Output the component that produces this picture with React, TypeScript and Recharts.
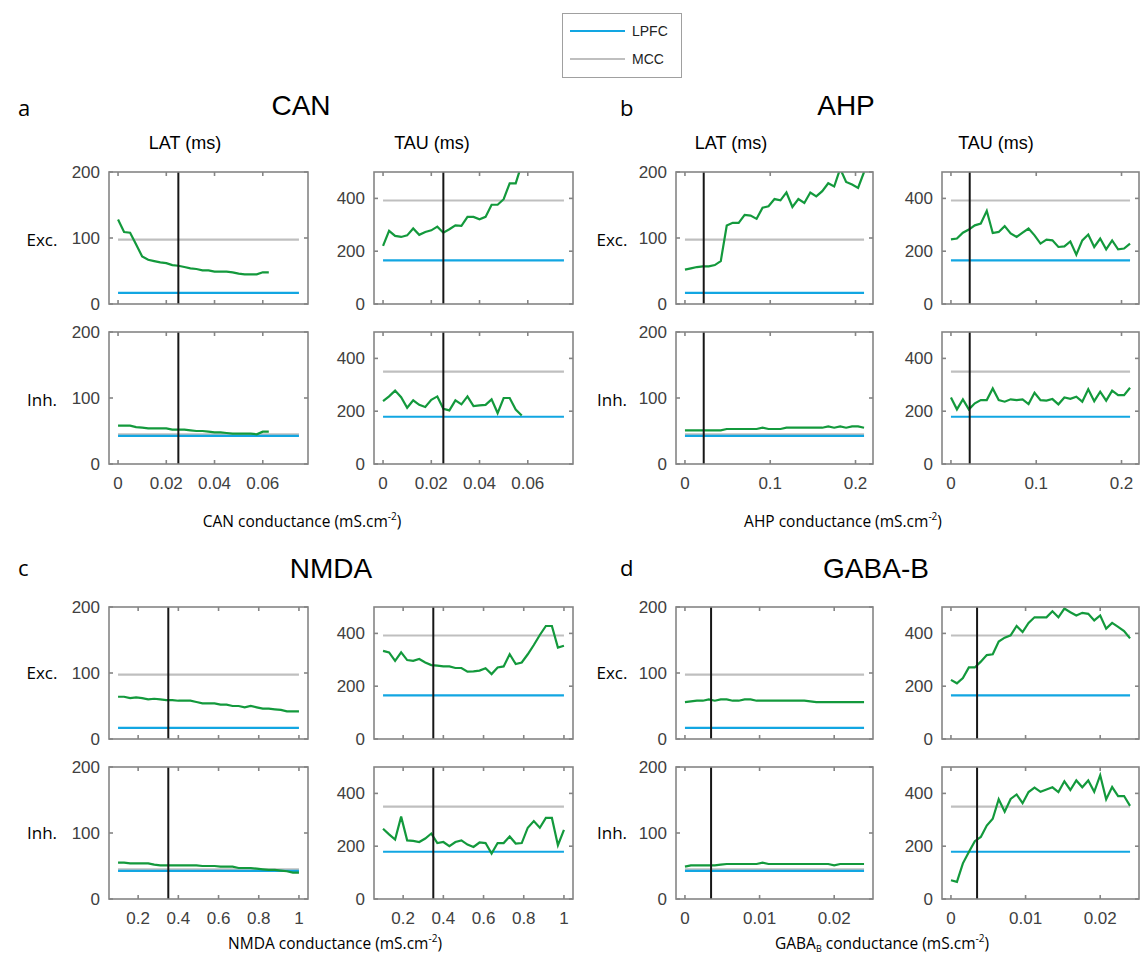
import React from 'react'
import { LineChart, Line, XAxis, YAxis, ReferenceLine } from 'recharts'

const GREEN = '#13993c'
const BLUE = '#12a6e2'
const GRAY = '#bfbfbf'
const AXIS = '#858585'
const TEXT = '#404040'

// conductance grids (mS.cm-2)
const canX = [0, 0.0025, 0.005, 0.0075, 0.01, 0.0125, 0.015, 0.0175, 0.02, 0.0225, 0.025, 0.0275, 0.03, 0.0325, 0.035, 0.0375, 0.04, 0.0425, 0.045, 0.0475, 0.05, 0.0525, 0.055, 0.0575, 0.06, 0.0625, 0.065, 0.0675, 0.07, 0.0725, 0.075]
const ahpX = [0, 0.007, 0.014, 0.021, 0.028, 0.035, 0.042, 0.049, 0.056, 0.063, 0.07, 0.077, 0.084, 0.091, 0.098, 0.105, 0.112, 0.119, 0.126, 0.133, 0.14, 0.147, 0.154, 0.161, 0.168, 0.175, 0.182, 0.189, 0.196, 0.203, 0.21]
const nmdaX = [0.1, 0.13, 0.16, 0.19, 0.22, 0.25, 0.28, 0.31, 0.34, 0.37, 0.4, 0.43, 0.46, 0.49, 0.52, 0.55, 0.58, 0.61, 0.64, 0.67, 0.7, 0.73, 0.76, 0.79, 0.82, 0.85, 0.88, 0.91, 0.94, 0.97, 1.0]
const gabaX = [0, 0.0008, 0.0016, 0.0024, 0.0032, 0.004, 0.0048, 0.0056, 0.0064, 0.0072, 0.008, 0.0088, 0.0096, 0.0104, 0.0112, 0.012, 0.0128, 0.0136, 0.0144, 0.0152, 0.016, 0.0168, 0.0176, 0.0184, 0.0192, 0.02, 0.0208, 0.0216, 0.0224, 0.0232, 0.024]

// model results (ms)
const canExcLat = [128, 109, 108, 90, 72, 67, 65, 63, 62, 59, 58, 56, 54, 53, 51, 51, 49, 49, 49, 48, 46, 45, 45, 45, 48, 48]
const canExcTau = [220, 277, 258, 254, 260, 286, 262, 273, 279, 293, 270, 283, 298, 296, 330, 330, 321, 330, 376, 376, 397, 457, 457, 530]
const canInhLat = [58, 58, 58, 56, 55, 54, 54, 54, 54, 52, 52, 52, 51, 50, 50, 49, 48, 48, 47, 46, 46, 46, 46, 45, 49, 49]
const canInhTau = [238, 256, 278, 253, 213, 241, 224, 216, 243, 256, 209, 203, 241, 226, 256, 219, 222, 224, 245, 193, 250, 250, 206, 184]

const ahpExcLat = [52, 54, 56, 57, 57, 59, 65, 119, 123, 123, 135, 134, 129, 146, 148, 159, 157, 169, 147, 159, 153, 169, 163, 171, 183, 178, 205, 185, 181, 176, 200]
const ahpExcTau = [245, 248, 270, 282, 298, 305, 353, 269, 273, 295, 267, 254, 270, 286, 260, 229, 244, 241, 216, 218, 237, 187, 241, 263, 216, 248, 207, 241, 207, 210, 229]
const ahpInhLat = [51, 51, 51, 51, 51, 51, 51, 53, 53, 53, 53, 53, 53, 55, 53, 53, 53, 55, 55, 55, 55, 55, 55, 55, 57, 55, 57, 55, 57, 57, 55]
const ahpInhTau = [252, 207, 245, 207, 230, 242, 242, 286, 242, 236, 245, 242, 245, 227, 270, 242, 240, 246, 226, 252, 247, 255, 236, 283, 238, 274, 240, 278, 261, 261, 289]

const nmdaExcLat = [64, 64, 62, 63, 62, 60, 61, 60, 59, 59, 58, 58, 58, 56, 54, 54, 54, 52, 52, 50, 50, 48, 50, 48, 46, 46, 45, 44, 42, 42, 42]
const nmdaExcTau = [334, 328, 296, 328, 299, 296, 303, 290, 280, 278, 275, 275, 269, 269, 255, 256, 259, 268, 246, 271, 275, 321, 284, 290, 321, 356, 394, 428, 428, 346, 353]
const nmdaInhLat = [55, 55, 54, 54, 54, 54, 52, 51, 51, 51, 51, 51, 51, 51, 50, 50, 50, 49, 49, 49, 47, 47, 47, 46, 45, 44, 44, 43, 42, 40, 40]
const nmdaInhTau = [266, 245, 225, 312, 222, 220, 216, 229, 248, 212, 216, 200, 216, 222, 206, 197, 214, 212, 172, 212, 212, 237, 210, 212, 270, 295, 270, 307, 307, 204, 262]

const gabaExcLat = [56, 57, 58, 58, 60, 58, 60, 60, 58, 58, 60, 60, 58, 58, 58, 58, 58, 58, 58, 58, 58, 57, 56, 56, 56, 56, 56, 56, 56, 56, 56]
const gabaExcTau = [224, 211, 231, 271, 271, 293, 318, 321, 369, 384, 393, 428, 405, 440, 461, 461, 461, 484, 461, 494, 480, 468, 478, 474, 449, 468, 418, 440, 425, 409, 381]
const gabaInhLat = [49, 51, 51, 51, 51, 51, 52, 53, 53, 53, 53, 53, 53, 55, 53, 53, 53, 53, 53, 53, 53, 53, 53, 53, 53, 51, 53, 53, 53, 53, 53]
const gabaInhTau = [71, 65, 135, 178, 219, 235, 278, 304, 378, 331, 379, 396, 363, 405, 422, 406, 415, 423, 405, 446, 413, 449, 423, 449, 406, 469, 378, 424, 390, 390, 353]

// recorded levels: exc LAT, exc TAU, inh LAT, inh TAU
const lpfcLevels = [17, 165, 42.5, 179]
const mccLevels = [97.5, 392, 45, 350]

// reference conductance (vertical marker)
const canRef = 0.025
const ahpRef = 0.022
const nmdaRef = 0.35
const gabaRef = 0.0035

const latTicks = [0, 100, 200]
const tauTicks = [0, 200, 400]

const tickStyle = { fill: TEXT, fontSize: 17, fontFamily: 'Liberation Sans, Arial, sans-serif' }

const PH = 132 // panel plot height
const ROW_GAP = 160

type QuadCfg = {
  left: number
  tauLeft: number
  top: number
  w: number
  xs: number[]
  xDomain: number[]
  xTicks: number[]
  mark: number
  series: number[][]
}

const quads: QuadCfg[] = [
  { left: 109, tauLeft: 374, top: 172, w: 199, xs: canX, xDomain: [-0.00375, 0.07875], xTicks: [0, 0.02, 0.04, 0.06],
    mark: canRef, series: [canExcLat, canExcTau, canInhLat, canInhTau] },
  { left: 676, tauLeft: 942, top: 172, w: 197, xs: ahpX, xDomain: [-0.0105, 0.2205], xTicks: [0, 0.1, 0.2],
    mark: ahpRef, series: [ahpExcLat, ahpExcTau, ahpInhLat, ahpInhTau] },
  { left: 109, tauLeft: 374, top: 607, w: 199, xs: nmdaX, xDomain: [0.055, 1.045], xTicks: [0.2, 0.4, 0.6, 0.8, 1],
    mark: nmdaRef, series: [nmdaExcLat, nmdaExcTau, nmdaInhLat, nmdaInhTau] },
  { left: 676, tauLeft: 942, top: 607, w: 197, xs: gabaX, xDomain: [-0.0012, 0.0252], xTicks: [0, 0.01, 0.02],
    mark: gabaRef, series: [gabaExcLat, gabaExcTau, gabaInhLat, gabaInhTau] },
]

type PanelCfg = {
  x: number
  y: number
  w: number
  xs: number[]
  vals: number[]
  xDomain: number[]
  xTicks: number[]
  yMax: number
  yTicks: number[]
  lpfc: number
  mcc: number
  mark: number
  labels: boolean
}

function panelsOf(q: QuadCfg): PanelCfg[] {
  const base = { w: q.w, xs: q.xs, xDomain: q.xDomain, xTicks: q.xTicks, mark: q.mark }
  return [0, 1, 2, 3].map((k) => {
    const tau = k % 2 === 1
    const inh = k >= 2
    return {
      ...base,
      x: tau ? q.tauLeft : q.left,
      y: q.top + (inh ? ROW_GAP : 0),
      vals: q.series[k],
      yMax: tau ? 500 : 200,
      yTicks: tau ? tauTicks : latTicks,
      lpfc: lpfcLevels[k],
      mcc: mccLevels[k],
      labels: inh,
    }
  })
}

const panels = quads.flatMap(panelsOf)

function Panel({ p }: { p: PanelCfg }) {
  const yw = 50
  const top = 12
  const right = 4
  const xh = p.labels ? 30 : 12
  const data = p.vals.map((v, i) => ({ x: p.xs[i], y: v }))
  const x0 = p.xs[0]
  const x1 = p.xs[p.xs.length - 1]
  const lpfcData = [{ x: x0, y: p.lpfc }, { x: x1, y: p.lpfc }]
  const mccData = [{ x: x0, y: p.mcc }, { x: x1, y: p.mcc }]

  return (
    <div style={{ position: 'absolute', left: p.x - yw, top: p.y - top }}>
      <LineChart width={yw + p.w + right} height={top + PH + xh} margin={{ top, right, left: 0, bottom: 0 }}>
        <XAxis xAxisId="b" type="number" dataKey="x" domain={p.xDomain} ticks={p.xTicks} allowDataOverflow
          height={xh} axisLine={false} tickLine={false} tickSize={0} tickMargin={13} interval={0}
          tick={p.labels ? tickStyle : false} />
        <YAxis yAxisId="l" type="number" domain={[0, p.yMax]} ticks={p.yTicks} allowDataOverflow
          width={yw} axisLine={false} tickLine={false} tickSize={0} tickMargin={9} interval={0} tick={tickStyle} />
        <Line xAxisId="b" yAxisId="l" data={mccData} dataKey="y" stroke={GRAY} strokeWidth={2.2} dot={false} isAnimationActive={false} />
        <Line xAxisId="b" yAxisId="l" data={lpfcData} dataKey="y" stroke={BLUE} strokeWidth={2.2} dot={false} isAnimationActive={false} />
        <Line xAxisId="b" yAxisId="l" data={data} dataKey="y" stroke={GREEN} strokeWidth={2.2} dot={false} isAnimationActive={false} />
        <ReferenceLine xAxisId="b" yAxisId="l" x={p.mark} stroke="#161616" strokeWidth={2} />
      </LineChart>
    </div>
  )
}

// box and inward ticks around each panel (MATLAB style "box on")
function Frames() {
  return (
    <svg width={1143} height={965} style={{ position: 'absolute', left: 0, top: 0, pointerEvents: 'none' }}>
      {panels.map((p, i) => {
        const [xa, xb] = p.xDomain
        const px = (t: number) => p.x + ((t - xa) / (xb - xa)) * p.w
        const py = (t: number) => p.y + PH - (t / p.yMax) * PH
        return (
          <g key={i} stroke={AXIS} strokeWidth={1.6} fill="none">
            <rect x={p.x} y={p.y} width={p.w} height={PH} />
            {p.xTicks.map((t) => (
              <React.Fragment key={`x${t}`}>
                <line x1={px(t)} x2={px(t)} y1={p.y + PH} y2={p.y + PH - 4} />
                <line x1={px(t)} x2={px(t)} y1={p.y} y2={p.y + 4} />
              </React.Fragment>
            ))}
            {p.yTicks.map((t) => (
              <React.Fragment key={`y${t}`}>
                <line x1={p.x} x2={p.x + 4} y1={py(t)} y2={py(t)} />
                <line x1={p.x + p.w} x2={p.x + p.w - 4} y1={py(t)} y2={py(t)} />
              </React.Fragment>
            ))}
          </g>
        )
      })}
    </svg>
  )
}

const SANS = 'Liberation Sans, Arial, sans-serif'
const UI = 'Open Sans, sans-serif'

function Sup() {
  return (
    <>
      <tspan dy={-7} fontSize={10}>-2</tspan>
      <tspan dy={7}>)</tspan>
    </>
  )
}

function Labels() {
  const rowX = [42, 612]
  const rowY = [[246, 406], [679, 839]]
  return (
    <svg width={1143} height={965} style={{ position: 'absolute', left: 0, top: 0 }}>
      {/* legend */}
      <rect x={562.5} y={13.5} width={119} height={64} fill="#fff" stroke="#a0a0a0" />
      <line x1={570} x2={625} y1={31} y2={31} stroke={BLUE} strokeWidth={2} />
      <line x1={570} x2={625} y1={59} y2={59} stroke={GRAY} strokeWidth={2} />
      <text x={632} y={36} fontSize={14} fill="#222" fontFamily={SANS}>LPFC</text>
      <text x={632} y={64} fontSize={14} fill="#222" fontFamily={SANS}>MCC</text>

      {/* panel letters */}
      <text x={18} y={116} fontSize={22} fontFamily={UI}>a</text>
      <text x={620} y={116} fontSize={22} fontFamily={UI}>b</text>
      <text x={18} y={576} fontSize={22} fontFamily={UI}>c</text>
      <text x={620} y={576} fontSize={22} fontFamily={UI}>d</text>

      {/* titles */}
      <text x={301} y={115} fontSize={28} textAnchor="middle" fontFamily={SANS}>CAN</text>
      <text x={846} y={115} fontSize={28} textAnchor="middle" fontFamily={SANS}>AHP</text>
      <text x={331} y={578} fontSize={28} textAnchor="middle" fontFamily={SANS}>NMDA</text>
      <text x={876} y={578} fontSize={28} textAnchor="middle" fontFamily={SANS}>GABA-B</text>

      <text x={185} y={149} fontSize={18} textAnchor="middle" fontFamily={SANS}>LAT (ms)</text>
      <text x={432} y={149} fontSize={18} textAnchor="middle" fontFamily={SANS}>TAU (ms)</text>
      <text x={731} y={149} fontSize={18} textAnchor="middle" fontFamily={SANS}>LAT (ms)</text>
      <text x={996} y={149} fontSize={18} textAnchor="middle" fontFamily={SANS}>TAU (ms)</text>

      {rowX.map((rx) =>
        rowY.map(([ey, iy]) => (
          <React.Fragment key={`${rx}-${ey}`}>
            <text x={rx} y={ey} fontSize={17} textAnchor="middle" fontFamily={UI}>Exc.</text>
            <text x={rx} y={iy} fontSize={17} textAnchor="middle" fontFamily={UI}>Inh.</text>
          </React.Fragment>
        ))
      )}

      {/* x axis titles */}
      <text x={302} y={527} fontSize={15.5} textAnchor="middle" fontFamily={UI}>CAN conductance (mS.cm<Sup /></text>
      <text x={843} y={527} fontSize={15.5} textAnchor="middle" fontFamily={UI}>AHP conductance (mS.cm<Sup /></text>
      <text x={335} y={949} fontSize={15.5} textAnchor="middle" fontFamily={UI}>NMDA conductance (mS.cm<Sup /></text>
      <text x={882} y={949} fontSize={15.5} textAnchor="middle" fontFamily={UI}>
        GABA<tspan dy={3} fontSize={9}>B</tspan><tspan dy={-3}> conductance (mS.cm</tspan><Sup />
      </text>
    </svg>
  )
}

export default function App() {
  return (
    <div style={{ position: 'absolute', left: 0, top: 0, width: 1143, height: 965, background: '#fff', fontFamily: SANS }}>
      <Labels />
      {panels.map((p, i) => (
        <Panel key={i} p={p} />
      ))}
      <Frames />
    </div>
  )
}
